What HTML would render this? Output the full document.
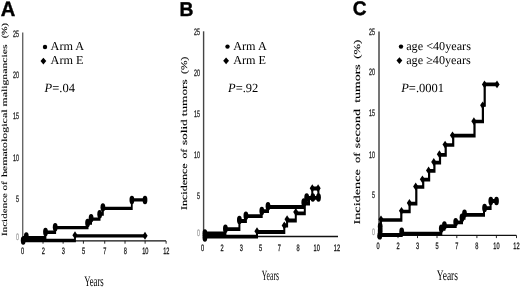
<!DOCTYPE html>
<html><head><meta charset="utf-8"><title>Figure</title>
<style>html,body{margin:0;padding:0;background:#fff}svg{display:block;will-change:transform}</style></head><body>
<svg width="520" height="287" viewBox="0 0 520 287" text-rendering="geometricPrecision">
<rect width="520" height="287" fill="#fff"/>
<text transform="translate(0.8 15.7) scale(0.97 1)" font-family='"Liberation Sans", sans-serif' font-size="20.8" font-weight="bold" fill="#000" stroke="#000" stroke-width="0.4">A</text>
<line x1="22.7" y1="32.5" x2="22.7" y2="240.9" stroke="#666" stroke-width="1.4"/>
<line x1="22.5" y1="240.9" x2="166" y2="240.9" stroke="#111" stroke-width="1.3"/>
<line x1="22.42" y1="240.9" x2="22.42" y2="243.7" stroke="#111" stroke-width="0.9"/>
<line x1="43.02" y1="240.9" x2="43.02" y2="243.7" stroke="#111" stroke-width="0.9"/>
<line x1="63.12" y1="240.9" x2="63.12" y2="243.7" stroke="#111" stroke-width="0.9"/>
<line x1="83.42" y1="240.9" x2="83.42" y2="243.7" stroke="#111" stroke-width="0.9"/>
<line x1="104.72" y1="240.9" x2="104.72" y2="243.7" stroke="#111" stroke-width="0.9"/>
<line x1="125.02" y1="240.9" x2="125.02" y2="243.7" stroke="#111" stroke-width="0.9"/>
<line x1="145.12" y1="240.9" x2="145.12" y2="243.7" stroke="#111" stroke-width="0.9"/>
<line x1="166.12" y1="240.9" x2="166.12" y2="243.7" stroke="#111" stroke-width="0.9"/>
<text transform="translate(19.0 36.6) scale(0.57 1)" font-family='"Liberation Sans", sans-serif' font-size="9.4" text-anchor="end" fill="#111" stroke="#111" stroke-width="0.25">25</text>
<text transform="translate(19.0 78.10000000000001) scale(0.57 1)" font-family='"Liberation Sans", sans-serif' font-size="9.4" text-anchor="end" fill="#111" stroke="#111" stroke-width="0.25">20</text>
<text transform="translate(19.0 119.10000000000001) scale(0.57 1)" font-family='"Liberation Sans", sans-serif' font-size="9.4" text-anchor="end" fill="#111" stroke="#111" stroke-width="0.25">15</text>
<text transform="translate(19.0 160.6) scale(0.57 1)" font-family='"Liberation Sans", sans-serif' font-size="9.4" text-anchor="end" fill="#111" stroke="#111" stroke-width="0.25">10</text>
<text transform="translate(19.0 201.6) scale(0.57 1)" font-family='"Liberation Sans", sans-serif' font-size="9.4" text-anchor="end" fill="#111" stroke="#111" stroke-width="0.25">5</text>
<text transform="translate(19.0 239.6) scale(0.57 1)" font-family='"Liberation Sans", sans-serif' font-size="9.4" text-anchor="end" fill="#999" stroke="#999" stroke-width="0.25">0</text>
<text transform="translate(22.6 254.1) scale(0.6 1)" font-family='"Liberation Sans", sans-serif' font-size="9.4" text-anchor="middle" fill="#111" stroke="#111" stroke-width="0.28">0</text>
<text transform="translate(43.2 254.1) scale(0.6 1)" font-family='"Liberation Sans", sans-serif' font-size="9.4" text-anchor="middle" fill="#111" stroke="#111" stroke-width="0.28">2</text>
<text transform="translate(63.300000000000004 254.1) scale(0.6 1)" font-family='"Liberation Sans", sans-serif' font-size="9.4" text-anchor="middle" fill="#111" stroke="#111" stroke-width="0.28">3</text>
<text transform="translate(83.6 254.1) scale(0.6 1)" font-family='"Liberation Sans", sans-serif' font-size="9.4" text-anchor="middle" fill="#111" stroke="#111" stroke-width="0.28">5</text>
<text transform="translate(104.89999999999999 254.1) scale(0.6 1)" font-family='"Liberation Sans", sans-serif' font-size="9.4" text-anchor="middle" fill="#111" stroke="#111" stroke-width="0.28">7</text>
<text transform="translate(125.19999999999999 254.1) scale(0.6 1)" font-family='"Liberation Sans", sans-serif' font-size="9.4" text-anchor="middle" fill="#111" stroke="#111" stroke-width="0.28">8</text>
<text transform="translate(145.29999999999998 254.1) scale(0.6 1)" font-family='"Liberation Sans", sans-serif' font-size="9.4" text-anchor="middle" fill="#111" stroke="#111" stroke-width="0.28">10</text>
<text transform="translate(166.29999999999998 254.1) scale(0.6 1)" font-family='"Liberation Sans", sans-serif' font-size="9.4" text-anchor="middle" fill="#111" stroke="#111" stroke-width="0.28">12</text>
<text transform="translate(84.2 285.7) scale(0.6 1)" font-family='"Liberation Serif", serif' font-size="14.6" fill="#000">Years</text>
<text transform="translate(6.6 236) rotate(-90)" font-family='"Liberation Serif", serif' font-size="7.8" font-weight="normal" textLength="43" lengthAdjust="spacingAndGlyphs" fill="#000" stroke="#000" stroke-width="0.1">Incidence</text>
<text transform="translate(6.6 190.5) rotate(-90)" font-family='"Liberation Serif", serif' font-size="7.8" font-weight="normal" textLength="9.2" lengthAdjust="spacingAndGlyphs" fill="#000" stroke="#000" stroke-width="0.1">of</text>
<text transform="translate(6.6 177.1) rotate(-90)" font-family='"Liberation Serif", serif' font-size="7.8" font-weight="normal" textLength="67.6" lengthAdjust="spacingAndGlyphs" fill="#000" stroke="#000" stroke-width="0.1">hematological</text>
<text transform="translate(6.6 106.5) rotate(-90)" font-family='"Liberation Serif", serif' font-size="7.8" font-weight="normal" textLength="62.1" lengthAdjust="spacingAndGlyphs" fill="#000" stroke="#000" stroke-width="0.1">malignancies</text>
<text transform="translate(6.6 38.3) rotate(-90)" font-family='"Liberation Serif", serif' font-size="7.8" font-weight="normal" textLength="15.3" lengthAdjust="spacingAndGlyphs" fill="#000" stroke="#000" stroke-width="0.1">(%)</text>
<circle cx="45.0" cy="47.0" r="2.2" fill="#000"/>
<path d="M40.5 61.1L43.4 57.7L46.3 61.1L43.4 64.5Z" fill="#000"/>
<text x="50.6" y="50.0" font-family='"Liberation Serif", serif' font-size="12.2" fill="#000">Arm A</text>
<text x="50.6" y="64.4" font-family='"Liberation Serif", serif' font-size="12.2" fill="#000">Arm E</text>
<text x="44.6" y="92.4" font-family='"Liberation Serif", serif' font-size="12.5" fill="#000"><tspan font-style="italic">P</tspan>=.04</text>
<path transform="scale(1 1.9)" d="M23 126.579 L75 126.579 L75 124.158 L145 124.158" fill="none" stroke="#000" stroke-width="1.8" stroke-linejoin="miter"/>
<path d="M72.4 235.3L75 231.3L77.6 235.3L75 239.3Z" fill="#000"/>
<path d="M142.4 235.8L145 231.8L147.6 235.8L145 239.8Z" fill="#000"/>
<path transform="scale(1 1.9)" d="M23 125.132 L45.5 125.132 L45.5 122.237 L55.2 122.237 L55.2 119.816 L87.6 119.816 L87.6 117.342 L91.1 117.342 L91.1 115.342 L99.6 115.342 L99.6 112.711 L102.9 112.711 L102.9 109.658 L131.8 109.658 L131.8 105.184 L145 105.184" fill="none" stroke="#000" stroke-width="1.8" stroke-linejoin="miter"/>
<ellipse cx="23.2" cy="240.45" rx="2.4" ry="4.2" fill="#000"/>
<ellipse cx="26.3" cy="236.35" rx="2.4" ry="4.2" fill="#000"/>
<ellipse cx="45.5" cy="232.05" rx="2.4" ry="4.2" fill="#000"/>
<ellipse cx="55.2" cy="227.25" rx="2.4" ry="4.2" fill="#000"/>
<ellipse cx="87.6" cy="222.95" rx="2.4" ry="4.2" fill="#000"/>
<ellipse cx="91.1" cy="218.15" rx="2.4" ry="4.2" fill="#000"/>
<ellipse cx="99.7" cy="214.15" rx="2.4" ry="4.2" fill="#000"/>
<ellipse cx="102.9" cy="207.35" rx="2.4" ry="4.2" fill="#000"/>
<ellipse cx="131.9" cy="199.95" rx="2.4" ry="4.2" fill="#000"/>
<ellipse cx="145" cy="199.95" rx="2.4" ry="4.2" fill="#000"/>
<text transform="translate(179.6 15.7) scale(0.97 1)" font-family='"Liberation Sans", sans-serif' font-size="19.9" font-weight="bold" fill="#000" stroke="#000" stroke-width="0.4">B</text>
<line x1="203.6" y1="31.3" x2="203.6" y2="236.5" stroke="#444" stroke-width="1.4"/>
<line x1="203.5" y1="236.5" x2="338" y2="236.5" stroke="#111" stroke-width="1.3"/>
<text transform="translate(200.0 35.0) scale(0.57 1)" font-family='"Liberation Sans", sans-serif' font-size="9.4" text-anchor="end" fill="#111" stroke="#111" stroke-width="0.25">25</text>
<text transform="translate(200.0 75.7) scale(0.57 1)" font-family='"Liberation Sans", sans-serif' font-size="9.4" text-anchor="end" fill="#111" stroke="#111" stroke-width="0.25">20</text>
<text transform="translate(200.0 116.60000000000001) scale(0.57 1)" font-family='"Liberation Sans", sans-serif' font-size="9.4" text-anchor="end" fill="#111" stroke="#111" stroke-width="0.25">15</text>
<text transform="translate(200.0 157.5) scale(0.57 1)" font-family='"Liberation Sans", sans-serif' font-size="9.4" text-anchor="end" fill="#111" stroke="#111" stroke-width="0.25">10</text>
<text transform="translate(200.0 198.7) scale(0.57 1)" font-family='"Liberation Sans", sans-serif' font-size="9.4" text-anchor="end" fill="#111" stroke="#111" stroke-width="0.25">5</text>
<text transform="translate(200.0 236.2) scale(0.57 1)" font-family='"Liberation Sans", sans-serif' font-size="9.4" text-anchor="end" fill="#999" stroke="#999" stroke-width="0.25">0</text>
<text transform="translate(202.6 250.5) scale(0.6 1)" font-family='"Liberation Sans", sans-serif' font-size="9.4" text-anchor="middle" fill="#111" stroke="#111" stroke-width="0.28">0</text>
<text transform="translate(222 250.5) scale(0.6 1)" font-family='"Liberation Sans", sans-serif' font-size="9.4" text-anchor="middle" fill="#111" stroke="#111" stroke-width="0.28">2</text>
<text transform="translate(241.4 250.5) scale(0.6 1)" font-family='"Liberation Sans", sans-serif' font-size="9.4" text-anchor="middle" fill="#111" stroke="#111" stroke-width="0.28">3</text>
<text transform="translate(260.5 250.5) scale(0.6 1)" font-family='"Liberation Sans", sans-serif' font-size="9.4" text-anchor="middle" fill="#111" stroke="#111" stroke-width="0.28">5</text>
<text transform="translate(279.3 250.5) scale(0.6 1)" font-family='"Liberation Sans", sans-serif' font-size="9.4" text-anchor="middle" fill="#111" stroke="#111" stroke-width="0.28">7</text>
<text transform="translate(298 250.5) scale(0.6 1)" font-family='"Liberation Sans", sans-serif' font-size="9.4" text-anchor="middle" fill="#111" stroke="#111" stroke-width="0.28">8</text>
<text transform="translate(316.7 250.5) scale(0.6 1)" font-family='"Liberation Sans", sans-serif' font-size="9.4" text-anchor="middle" fill="#111" stroke="#111" stroke-width="0.28">10</text>
<text transform="translate(337 250.5) scale(0.6 1)" font-family='"Liberation Sans", sans-serif' font-size="9.4" text-anchor="middle" fill="#111" stroke="#111" stroke-width="0.28">12</text>
<text transform="translate(261.8 279.8) scale(0.545 1)" font-family='"Liberation Serif", serif' font-size="14.1" fill="#000">Years</text>
<text transform="translate(186.8 209.9) rotate(-90)" font-family='"Liberation Serif", serif' font-size="8.8" font-weight="normal" textLength="46.4" lengthAdjust="spacingAndGlyphs" fill="#000" stroke="#000" stroke-width="0.12">Incidence</text>
<text transform="translate(186.8 158.5) rotate(-90)" font-family='"Liberation Serif", serif' font-size="8.8" font-weight="normal" textLength="9.7" lengthAdjust="spacingAndGlyphs" fill="#000" stroke="#000" stroke-width="0.12">of</text>
<text transform="translate(186.8 145.1) rotate(-90)" font-family='"Liberation Serif", serif' font-size="8.8" font-weight="normal" textLength="25.8" lengthAdjust="spacingAndGlyphs" fill="#000" stroke="#000" stroke-width="0.12">solid</text>
<text transform="translate(186.8 116.2) rotate(-90)" font-family='"Liberation Serif", serif' font-size="8.8" font-weight="normal" textLength="36.8" lengthAdjust="spacingAndGlyphs" fill="#000" stroke="#000" stroke-width="0.12">tumors</text>
<text transform="translate(186.8 73.9) rotate(-90)" font-family='"Liberation Serif", serif' font-size="8.8" font-weight="normal" textLength="17.1" lengthAdjust="spacingAndGlyphs" fill="#000" stroke="#000" stroke-width="0.12">(%)</text>
<circle cx="227.5" cy="46.6" r="2.2" fill="#000"/>
<path d="M223.2 60.8L226.1 57.4L229.0 60.8L226.1 64.2Z" fill="#000"/>
<text x="233.2" y="49.6" font-family='"Liberation Serif", serif' font-size="12.2" fill="#000">Arm A</text>
<text x="233.2" y="64.1" font-family='"Liberation Serif", serif' font-size="12.2" fill="#000">Arm E</text>
<text x="228" y="92.4" font-family='"Liberation Serif", serif' font-size="12.5" fill="#000"><tspan font-style="italic">P</tspan>=.92</text>
<path transform="scale(1 1.9)" d="M204 124.579 L257 124.579 L257 122.105 L284.3 122.105 L284.3 118.684 L287.1 118.684 L287.1 116.053 L295.8 116.053 L295.8 112.263 L304.8 112.263 L304.8 107.105 L309 107.105 L309 104.105 L312.3 104.105 L312.3 99.211 L318.1 99.211" fill="none" stroke="#000" stroke-width="2.0" stroke-linejoin="miter"/>
<path d="M254.4 231.3L257 227.3L259.6 231.3L257 235.3Z" fill="#000"/>
<path d="M281.7 225.5L284.3 221.5L286.90000000000003 225.5L284.3 229.5Z" fill="#000"/>
<path d="M284.5 219.2L287.1 215.2L289.70000000000005 219.2L287.1 223.2Z" fill="#000"/>
<path d="M293.2 212.0L295.8 208.0L298.40000000000003 212.0L295.8 216.0Z" fill="#000"/>
<path d="M309.7 188.3L312.3 184.3L314.90000000000003 188.3L312.3 192.3Z" fill="#000"/>
<path d="M315.5 188.3L318.1 184.3L320.70000000000005 188.3L318.1 192.3Z" fill="#000"/>
<path transform="scale(1 1.9)" d="M204 122.842 L225.4 122.842 L225.4 120.579 L239.4 120.579 L239.4 116.316 L245.9 116.316 L245.9 113.789 L261.7 113.789 L261.7 111.105 L268 111.105 L268 108.947 L303.5 108.947 L303.5 106.579 L306.7 106.579 L306.7 104.105 L318.4 104.105 L318.4 99.316" fill="none" stroke="#000" stroke-width="2.0" stroke-linejoin="miter"/>
<ellipse cx="204.9" cy="233.5" rx="2.4" ry="4.2" fill="#000"/>
<ellipse cx="204.9" cy="237.5" rx="2.4" ry="4.2" fill="#000"/>
<ellipse cx="225.4" cy="228.7" rx="2.4" ry="4.2" fill="#000"/>
<ellipse cx="239.4" cy="219.9" rx="2.4" ry="4.2" fill="#000"/>
<ellipse cx="245.9" cy="215.7" rx="2.4" ry="4.2" fill="#000"/>
<ellipse cx="261.8" cy="210.9" rx="2.4" ry="4.2" fill="#000"/>
<ellipse cx="268" cy="206.3" rx="2.4" ry="4.2" fill="#000"/>
<ellipse cx="303.8" cy="202.5" rx="2.4" ry="4.2" fill="#000"/>
<ellipse cx="306.7" cy="197.4" rx="2.4" ry="4.2" fill="#000"/>
<ellipse cx="312.8" cy="197.5" rx="2.4" ry="4.2" fill="#000"/>
<ellipse cx="318.5" cy="197.5" rx="2.4" ry="4.2" fill="#000"/>
<text transform="translate(352.8 15.0) scale(0.97 1)" font-family='"Liberation Sans", sans-serif' font-size="19.7" font-weight="bold" fill="#000" stroke="#000" stroke-width="0.4">C</text>
<line x1="379.0" y1="31.5" x2="379.0" y2="235.3" stroke="#666" stroke-width="1.8"/>
<line x1="378.5" y1="235.3" x2="516.3" y2="235.3" stroke="#111" stroke-width="1.3"/>
<line x1="378.0" y1="235.3" x2="378.0" y2="238.1" stroke="#111" stroke-width="0.9"/>
<line x1="398.0" y1="235.3" x2="398.0" y2="238.1" stroke="#111" stroke-width="0.9"/>
<line x1="417.5" y1="235.3" x2="417.5" y2="238.1" stroke="#111" stroke-width="0.9"/>
<line x1="437.0" y1="235.3" x2="437.0" y2="238.1" stroke="#111" stroke-width="0.9"/>
<line x1="456.8" y1="235.3" x2="456.8" y2="238.1" stroke="#111" stroke-width="0.9"/>
<line x1="476.9" y1="235.3" x2="476.9" y2="238.1" stroke="#111" stroke-width="0.9"/>
<line x1="496.4" y1="235.3" x2="496.4" y2="238.1" stroke="#111" stroke-width="0.9"/>
<line x1="516.5" y1="235.3" x2="516.5" y2="238.1" stroke="#111" stroke-width="0.9"/>
<text transform="translate(375.0 35.300000000000004) scale(0.57 1)" font-family='"Liberation Sans", sans-serif' font-size="9.4" text-anchor="end" fill="#111" stroke="#111" stroke-width="0.25">25</text>
<text transform="translate(375.0 75.2) scale(0.57 1)" font-family='"Liberation Sans", sans-serif' font-size="9.4" text-anchor="end" fill="#111" stroke="#111" stroke-width="0.25">20</text>
<text transform="translate(375.0 116.10000000000001) scale(0.57 1)" font-family='"Liberation Sans", sans-serif' font-size="9.4" text-anchor="end" fill="#111" stroke="#111" stroke-width="0.25">15</text>
<text transform="translate(375.0 157.7) scale(0.57 1)" font-family='"Liberation Sans", sans-serif' font-size="9.4" text-anchor="end" fill="#111" stroke="#111" stroke-width="0.25">10</text>
<text transform="translate(375.0 197.7) scale(0.57 1)" font-family='"Liberation Sans", sans-serif' font-size="9.4" text-anchor="end" fill="#111" stroke="#111" stroke-width="0.25">5</text>
<text transform="translate(375.0 234.7) scale(0.57 1)" font-family='"Liberation Sans", sans-serif' font-size="9.4" text-anchor="end" fill="#999" stroke="#999" stroke-width="0.25">0</text>
<text transform="translate(378 248.5) scale(0.6 1)" font-family='"Liberation Sans", sans-serif' font-size="9.4" text-anchor="middle" fill="#111" stroke="#111" stroke-width="0.28">0</text>
<text transform="translate(398 248.5) scale(0.6 1)" font-family='"Liberation Sans", sans-serif' font-size="9.4" text-anchor="middle" fill="#111" stroke="#111" stroke-width="0.28">2</text>
<text transform="translate(417.5 248.5) scale(0.6 1)" font-family='"Liberation Sans", sans-serif' font-size="9.4" text-anchor="middle" fill="#111" stroke="#111" stroke-width="0.28">3</text>
<text transform="translate(437 248.5) scale(0.6 1)" font-family='"Liberation Sans", sans-serif' font-size="9.4" text-anchor="middle" fill="#111" stroke="#111" stroke-width="0.28">5</text>
<text transform="translate(456.8 248.5) scale(0.6 1)" font-family='"Liberation Sans", sans-serif' font-size="9.4" text-anchor="middle" fill="#111" stroke="#111" stroke-width="0.28">7</text>
<text transform="translate(476.9 248.5) scale(0.6 1)" font-family='"Liberation Sans", sans-serif' font-size="9.4" text-anchor="middle" fill="#111" stroke="#111" stroke-width="0.28">8</text>
<text transform="translate(496.4 248.5) scale(0.6 1)" font-family='"Liberation Sans", sans-serif' font-size="9.4" text-anchor="middle" fill="#111" stroke="#111" stroke-width="0.28">10</text>
<text transform="translate(516.5 248.5) scale(0.6 1)" font-family='"Liberation Sans", sans-serif' font-size="9.4" text-anchor="middle" fill="#111" stroke="#111" stroke-width="0.28">12</text>
<text transform="translate(436.8 279.6) scale(0.65 1)" font-family='"Liberation Serif", serif' font-size="14.6" fill="#000">Years</text>
<text transform="translate(359.9 224.6) rotate(-90)" font-family='"Liberation Serif", serif' font-size="9.0" font-weight="normal" textLength="55.5" lengthAdjust="spacingAndGlyphs" fill="#000" stroke="#000" stroke-width="0.12">Incidence</text>
<text transform="translate(359.9 163) rotate(-90)" font-family='"Liberation Serif", serif' font-size="9.0" font-weight="normal" textLength="10.6" lengthAdjust="spacingAndGlyphs" fill="#000" stroke="#000" stroke-width="0.12">of</text>
<text transform="translate(359.9 148.2) rotate(-90)" font-family='"Liberation Serif", serif' font-size="9.0" font-weight="normal" textLength="39.3" lengthAdjust="spacingAndGlyphs" fill="#000" stroke="#000" stroke-width="0.12">second</text>
<text transform="translate(359.9 102.8) rotate(-90)" font-family='"Liberation Serif", serif' font-size="9.0" font-weight="normal" textLength="38.5" lengthAdjust="spacingAndGlyphs" fill="#000" stroke="#000" stroke-width="0.12">tumors</text>
<text transform="translate(359.9 58.8) rotate(-90)" font-family='"Liberation Serif", serif' font-size="9.0" font-weight="normal" textLength="19.0" lengthAdjust="spacingAndGlyphs" fill="#000" stroke="#000" stroke-width="0.12">(%)</text>
<circle cx="401.0" cy="46.6" r="2.2" fill="#000"/>
<path d="M396.5 60.6L399.4 57.2L402.29999999999995 60.6L399.4 64.0Z" fill="#000"/>
<text x="406.2" y="49.6" font-family='"Liberation Serif", serif' font-size="12.2" fill="#000">age &lt;40years</text>
<text x="406.2" y="63.9" font-family='"Liberation Serif", serif' font-size="12.2" fill="#000">age ≥40years</text>
<text x="401.2" y="92.3" font-family='"Liberation Serif", serif' font-size="12.5" fill="#000"><tspan font-style="italic">P</tspan>=.0001</text>
<path transform="scale(1 1.7)" d="M380.8 138.0 L380.8 129.412 L401.3 129.412 L401.3 124.412 L409.6 124.412 L409.6 119.765 L416.3 119.765 L416.3 110.0 L423.2 110.0 L423.2 105.706 L429.1 105.706 L429.1 100.471 L434.4 100.471 L434.4 95.647 L440 95.647 L440 91.059 L445.7 91.059 L445.7 85.294 L453.2 85.294 L453.2 79.824 L474.5 79.824 L474.5 71.471 L482.9 71.471 L482.9 61.765 L484.7 61.765 L484.7 49.647 L497 49.647" fill="none" stroke="#000" stroke-width="2.2" stroke-linejoin="miter"/>
<path d="M378.4 219.3L381 215.4L383.6 219.3L381 223.20000000000002Z" fill="#000"/>
<path d="M398.9 210.8L401.5 206.9L404.1 210.8L401.5 214.70000000000002Z" fill="#000"/>
<path d="M406.79999999999995 203L409.4 199.1L412.0 203L409.4 206.9Z" fill="#000"/>
<path d="M413.09999999999997 186.5L415.7 182.6L418.3 186.5L415.7 190.4Z" fill="#000"/>
<path d="M419.79999999999995 179.3L422.4 175.4L425.0 179.3L422.4 183.20000000000002Z" fill="#000"/>
<path d="M426.0 170.4L428.6 166.5L431.20000000000005 170.4L428.6 174.3Z" fill="#000"/>
<path d="M431.2 162L433.8 158.1L436.40000000000003 162L433.8 165.9Z" fill="#000"/>
<path d="M436.79999999999995 154.2L439.4 150.29999999999998L442.0 154.2L439.4 158.1Z" fill="#000"/>
<path d="M442.5 144.6L445.1 140.7L447.70000000000005 144.6L445.1 148.5Z" fill="#000"/>
<path d="M449.9 135.3L452.5 131.4L455.1 135.3L452.5 139.20000000000002Z" fill="#000"/>
<path d="M471.29999999999995 121.2L473.9 117.3L476.5 121.2L473.9 125.10000000000001Z" fill="#000"/>
<path d="M480.09999999999997 105.3L482.7 101.39999999999999L485.3 105.3L482.7 109.2Z" fill="#000"/>
<path d="M481.9 84.4L484.5 80.5L487.1 84.4L484.5 88.30000000000001Z" fill="#000"/>
<path d="M494.4 84.4L497 80.5L499.6 84.4L497 88.30000000000001Z" fill="#000"/>
<path transform="scale(1 1.9)" d="M380 123.684 L401.7 123.684 L401.7 123.0 L441.3 123.0 L441.3 120.474 L444.4 120.474 L444.4 119.0 L455.7 119.0 L455.7 117.053 L462 117.053 L462 114.684 L464.5 114.684 L464.5 113.053 L484 113.053 L484 109.579 L490.6 109.579 L490.6 105.789 L496.5 105.789" fill="none" stroke="#000" stroke-width="2.0" stroke-linejoin="miter"/>
<ellipse cx="380.2" cy="226.6" rx="2.4" ry="4.2" fill="#000"/>
<ellipse cx="380.2" cy="230.9" rx="2.4" ry="4.2" fill="#000"/>
<ellipse cx="379.8" cy="235.4" rx="2.4" ry="4.2" fill="#000"/>
<ellipse cx="401.7" cy="231.8" rx="2.4" ry="4.2" fill="#000"/>
<ellipse cx="441.3" cy="228.6" rx="2.4" ry="4.2" fill="#000"/>
<ellipse cx="444.4" cy="225.5" rx="2.4" ry="4.2" fill="#000"/>
<ellipse cx="455.7" cy="222.1" rx="2.4" ry="4.2" fill="#000"/>
<ellipse cx="462" cy="217.7" rx="2.4" ry="4.2" fill="#000"/>
<ellipse cx="464.5" cy="213.6" rx="2.4" ry="4.2" fill="#000"/>
<ellipse cx="484.6" cy="207.9" rx="2.4" ry="4.2" fill="#000"/>
<ellipse cx="490.8" cy="201.0" rx="2.4" ry="4.2" fill="#000"/>
<ellipse cx="496.5" cy="201.0" rx="2.4" ry="4.2" fill="#000"/>
</svg></body></html>
